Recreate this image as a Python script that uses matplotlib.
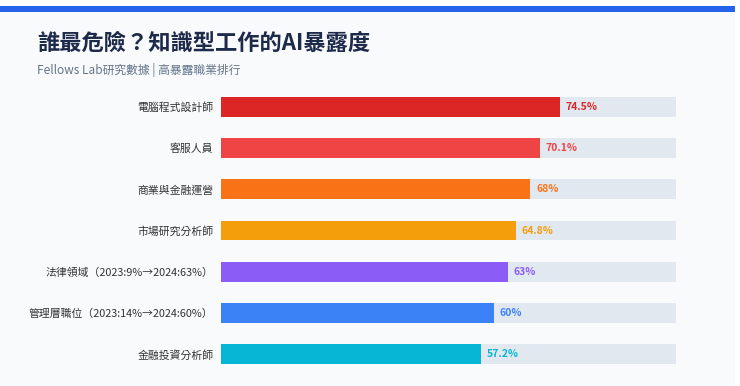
import matplotlib
matplotlib.use("Agg")
import matplotlib.pyplot as plt
from matplotlib.patches import Rectangle

plt.rcParams['font.family'] = ['Noto Sans CJK TC', 'DejaVu Sans']

# data
jobs = ['電腦程式設計師', '客服人員', '商業與金融運營', '市場研究分析師',
        '法律領域（2023:9%→2024:63%）', '管理層職位（2023:14%→2024:60%）', '金融投資分析師']
exposure = [74.5, 70.1, 68, 64.8, 63, 60, 57.2]
value_labels = ['74.5%', '70.1%', '68%', '64.8%', '63%', '60%', '57.2%']
colors = ['#dc2626', '#ef4444', '#f97316', '#f59e0b', '#8b5cf6', '#3b82f6', '#06b6d4']

W, H = 740, 386
fig = plt.figure(figsize=(W / 100, H / 100), dpi=100)
fig.patch.set_facecolor('#ffffff')

# card background + top accent
fig.patches.append(Rectangle((0, 0), 735 / W, (H - 6) / H, transform=fig.transFigure,
                             facecolor='#f8fafc', edgecolor='none', zorder=-10))
fig.patches.append(Rectangle((0, (H - 12) / H), 735 / W, 6 / H, transform=fig.transFigure,
                             facecolor='#2563eb', edgecolor='none', zorder=-9))

fig.text(37 / W, 1 - 43 / H, '誰最危險？知識型工作的AI暴露度', fontsize=16,
         fontweight='bold', color='#1e2a4a', va='center', ha='left')
fig.text(37 / W, 1 - 70 / H, 'Fellows Lab研究數據 | 高暴露職業排行', fontsize=8.5,
         color='#64748b', va='center', ha='left')

ax = fig.add_axes([221 / W, 11 / H, 455 / W, 289 / H])
ax.set_facecolor('none')
ypos = list(range(len(jobs)))
ax.barh(ypos, [100] * len(jobs), height=0.48, color='#e2e8f0', zorder=1)
ax.barh(ypos, exposure, height=0.48, color=colors, zorder=2)
for y, v, lab, c in zip(ypos, exposure, value_labels, colors):
    ax.text(v + 1.3, y, lab, color=c, fontsize=7.5, fontweight='bold',
            va='center', ha='left', zorder=3)
ax.set_xlim(0, 100)
ax.set_ylim(len(jobs) - 0.5, -0.5)
ax.set_yticks(ypos)
ax.set_yticklabels(jobs, fontsize=7.8, color='#333333')
ax.tick_params(axis='y', length=0, pad=5.5)
ax.set_xticks([])
for s in ax.spines.values():
    s.set_visible(False)

fig.savefig('out.png', dpi=100)
